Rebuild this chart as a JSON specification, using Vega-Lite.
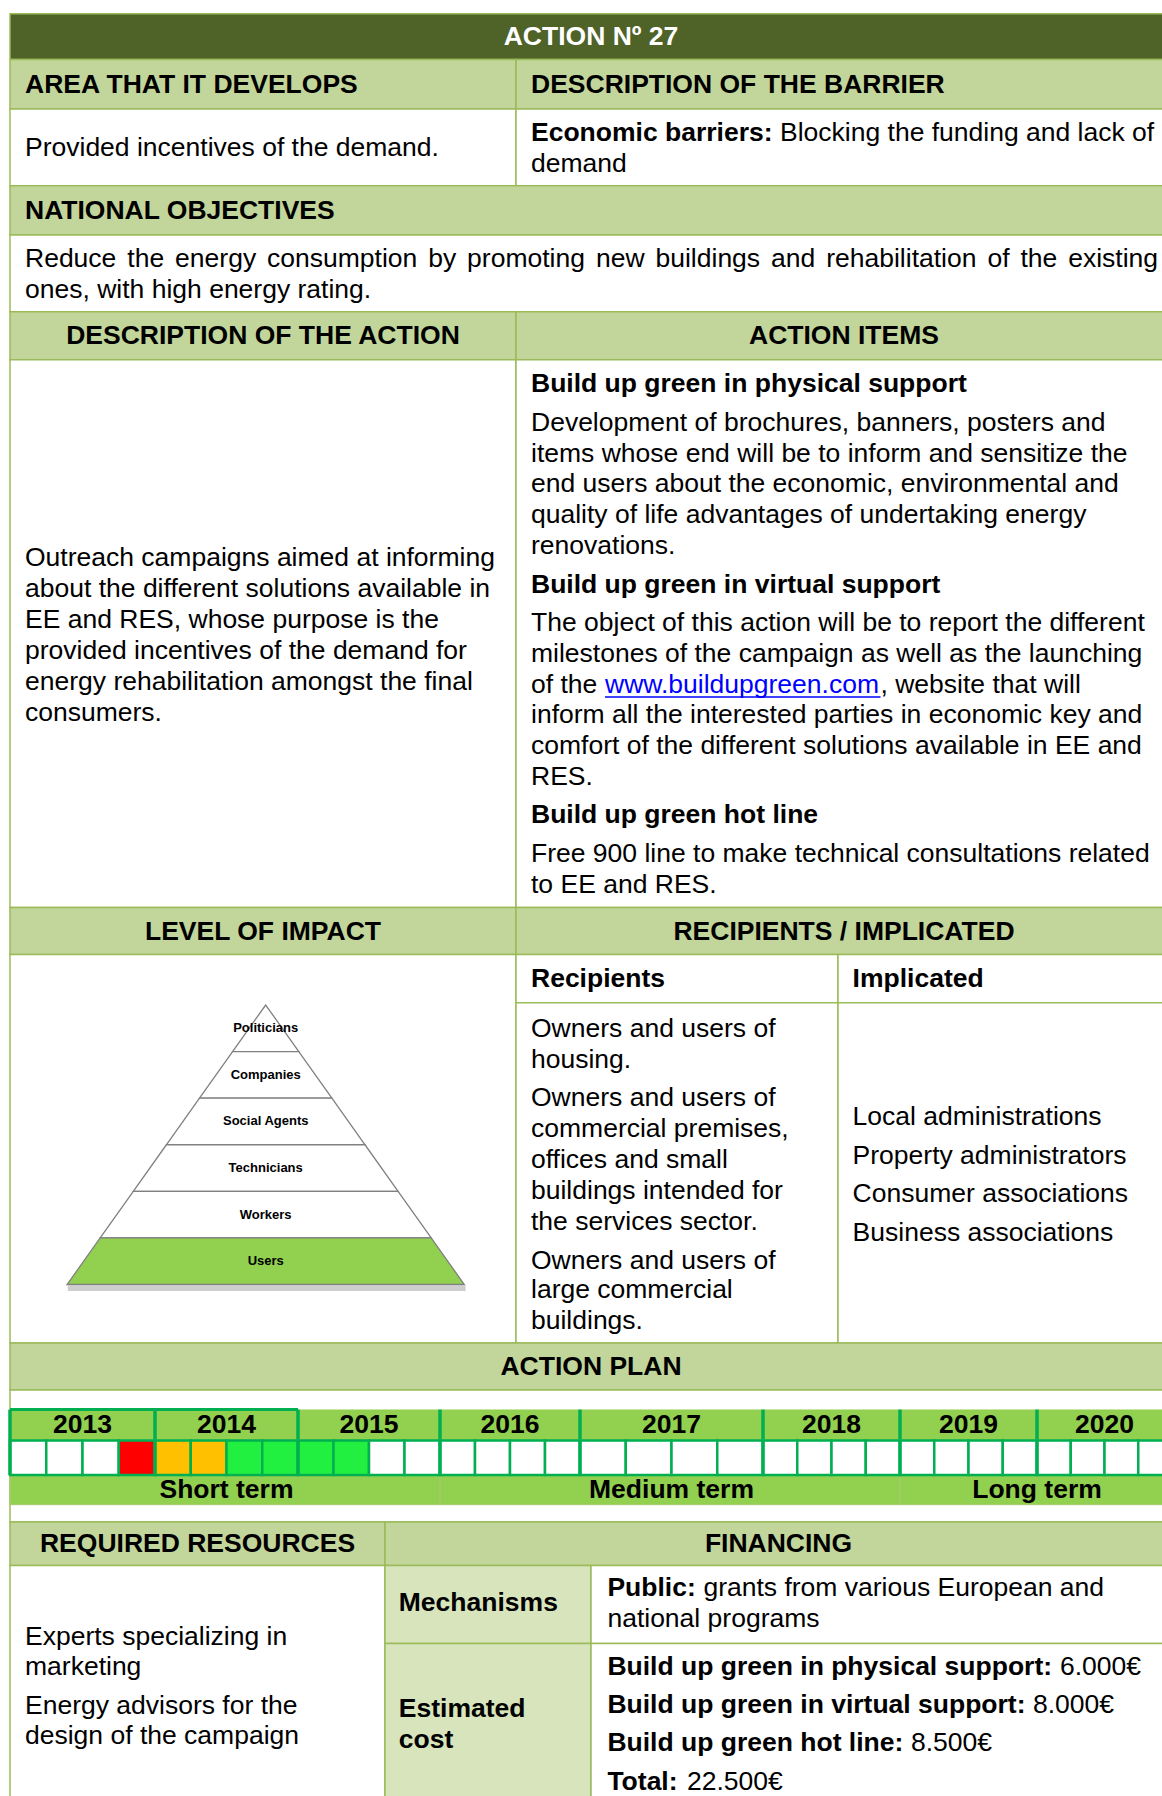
{
"$schema": "https://vega.github.io/schema/vega-lite/v6.json",
"width": 1162, "height": 1796, "padding": 0,
"autosize": {"type": "fit", "contains": "padding"},
"background": "white",
"config": {"view": {"stroke": null}, "axis": {"disable": true}, "legend": {"disable": true}, "text": {"font": "Liberation Sans"}},
"datasets": {
"cells": [
{"x0":10,"x1":1172,"y0":13.8,"y1":59.6,"kind":"dark"},
{"x0":10,"x1":516,"y0":59.6,"y1":108.9,"kind":"head"},
{"x0":516,"x1":1172,"y0":59.6,"y1":108.9,"kind":"head"},
{"x0":10,"x1":516,"y0":108.9,"y1":185.7,"kind":"body"},
{"x0":516,"x1":1172,"y0":108.9,"y1":185.7,"kind":"body"},
{"x0":10,"x1":1172,"y0":185.7,"y1":235,"kind":"head"},
{"x0":10,"x1":1172,"y0":235,"y1":311.7,"kind":"body"},
{"x0":10,"x1":516,"y0":311.7,"y1":359.8,"kind":"head"},
{"x0":516,"x1":1172,"y0":311.7,"y1":359.8,"kind":"head"},
{"x0":10,"x1":516,"y0":359.8,"y1":907.6,"kind":"body"},
{"x0":516,"x1":1172,"y0":359.8,"y1":907.6,"kind":"body"},
{"x0":10,"x1":516,"y0":907.6,"y1":954.6,"kind":"head"},
{"x0":516,"x1":1172,"y0":907.6,"y1":954.6,"kind":"head"},
{"x0":10,"x1":516,"y0":954.6,"y1":1343,"kind":"body"},
{"x0":516,"x1":838,"y0":954.6,"y1":1002.8,"kind":"body"},
{"x0":838,"x1":1172,"y0":954.6,"y1":1002.8,"kind":"body"},
{"x0":516,"x1":838,"y0":1002.8,"y1":1343,"kind":"body"},
{"x0":838,"x1":1172,"y0":1002.8,"y1":1343,"kind":"body"},
{"x0":10,"x1":1172,"y0":1343,"y1":1390,"kind":"head"},
{"x0":10,"x1":1172,"y0":1390,"y1":1522,"kind":"body"},
{"x0":10,"x1":385,"y0":1522,"y1":1565.4,"kind":"head"},
{"x0":385,"x1":1172,"y0":1522,"y1":1565.4,"kind":"head"},
{"x0":10,"x1":385,"y0":1565.4,"y1":1810,"kind":"body"},
{"x0":385,"x1":591,"y0":1565.4,"y1":1643.4,"kind":"label"},
{"x0":591,"x1":1172,"y0":1565.4,"y1":1643.4,"kind":"body"},
{"x0":385,"x1":591,"y0":1643.4,"y1":1810,"kind":"label"},
{"x0":591,"x1":1172,"y0":1643.4,"y1":1810,"kind":"body"}
],
"texts": [
{"tx":591,"ty":36.7,"t":"ACTION Nº 27","s":"title"},
{"tx":25,"ty":84.8,"t":"AREA THAT IT DEVELOPS","s":"hl"},
{"tx":531,"ty":84.8,"t":"DESCRIPTION OF THE BARRIER","s":"hl"},
{"tx":25,"ty":147.8,"t":"Provided incentives of the demand.","s":"b"},
{"tx":531,"ty":133,"t":"Economic barriers:","s":"hl"},
{"tx":780,"ty":133,"t":"Blocking the funding and lack of","s":"b"},
{"tx":531,"ty":164,"t":"demand","s":"b"},
{"tx":25,"ty":210.9,"t":"NATIONAL OBJECTIVES","s":"hl"},
{"tx":25,"ty":259,"t":"Reduce","s":"b"},
{"tx":127.3,"ty":259,"t":"the","s":"b"},
{"tx":175.1,"ty":259,"t":"energy","s":"b"},
{"tx":267,"ty":259,"t":"consumption","s":"b"},
{"tx":428.2,"ty":259,"t":"by","s":"b"},
{"tx":467.1,"ty":259,"t":"promoting","s":"b"},
{"tx":595.9,"ty":259,"t":"new","s":"b"},
{"tx":655.5,"ty":259,"t":"buildings","s":"b"},
{"tx":771,"ty":259,"t":"and","s":"b"},
{"tx":826.2,"ty":259,"t":"rehabilitation","s":"b"},
{"tx":987.4,"ty":259,"t":"of","s":"b"},
{"tx":1020.4,"ty":259,"t":"the","s":"b"},
{"tx":1068.2,"ty":259,"t":"existing","s":"b"},
{"tx":25,"ty":290,"t":"ones, with high energy rating.","s":"b"},
{"tx":263,"ty":335.8,"t":"DESCRIPTION OF THE ACTION","s":"hc"},
{"tx":844,"ty":335.8,"t":"ACTION ITEMS","s":"hc"},
{"tx":25,"ty":558.1,"t":"Outreach campaigns aimed at informing","s":"b"},
{"tx":25,"ty":589,"t":"about the different solutions available in","s":"b"},
{"tx":25,"ty":620,"t":"EE and RES, whose purpose is the","s":"b"},
{"tx":25,"ty":651,"t":"provided incentives of the demand for","s":"b"},
{"tx":25,"ty":682,"t":"energy rehabilitation amongst the final","s":"b"},
{"tx":25,"ty":712.8,"t":"consumers.","s":"b"},
{"tx":531,"ty":383.9,"t":"Build up green in physical support","s":"hl"},
{"tx":531,"ty":422.9,"t":"Development of brochures, banners, posters and","s":"b"},
{"tx":531,"ty":453.8,"t":"items whose end will be to inform and sensitize the","s":"b"},
{"tx":531,"ty":483.6,"t":"end users about the economic, environmental and","s":"b"},
{"tx":531,"ty":514.6,"t":"quality of life advantages of undertaking energy","s":"b"},
{"tx":531,"ty":545.5,"t":"renovations.","s":"b"},
{"tx":531,"ty":584.5,"t":"Build up green in virtual support","s":"hl"},
{"tx":531,"ty":623.4,"t":"The object of this action will be to report the different","s":"b"},
{"tx":531,"ty":654.4,"t":"milestones of the campaign as well as the launching","s":"b"},
{"tx":531,"ty":685.3,"t":"of the","s":"b"},
{"tx":605,"ty":685.3,"t":"www.buildupgreen.com","s":"link"},
{"tx":880.5,"ty":685.3,"t":", website that will","s":"b"},
{"tx":531,"ty":715.1,"t":"inform all the interested parties in economic key and","s":"b"},
{"tx":531,"ty":746,"t":"comfort of the different solutions available in EE and","s":"b"},
{"tx":531,"ty":777,"t":"RES.","s":"b"},
{"tx":531,"ty":814.8,"t":"Build up green hot line","s":"hl"},
{"tx":531,"ty":853.8,"t":"Free 900 line to make technical consultations related","s":"b"},
{"tx":531,"ty":884.7,"t":"to EE and RES.","s":"b"},
{"tx":263,"ty":931.7,"t":"LEVEL OF IMPACT","s":"hc"},
{"tx":844,"ty":931.7,"t":"RECIPIENTS / IMPLICATED","s":"hc"},
{"tx":531,"ty":978.7,"t":"Recipients","s":"hl"},
{"tx":852.6,"ty":978.7,"t":"Implicated","s":"hl"},
{"tx":531,"ty":1029,"t":"Owners and users of","s":"b"},
{"tx":531,"ty":1060,"t":"housing.","s":"b"},
{"tx":531,"ty":1097.9,"t":"Owners and users of","s":"b"},
{"tx":531,"ty":1128.8,"t":"commercial premises,","s":"b"},
{"tx":531,"ty":1159.8,"t":"offices and small","s":"b"},
{"tx":531,"ty":1190.7,"t":"buildings intended for","s":"b"},
{"tx":531,"ty":1221.6,"t":"the services sector.","s":"b"},
{"tx":531,"ty":1260.6,"t":"Owners and users of","s":"b"},
{"tx":531,"ty":1290.4,"t":"large commercial","s":"b"},
{"tx":531,"ty":1321.3,"t":"buildings.","s":"b"},
{"tx":852.6,"ty":1117.4,"t":"Local administrations","s":"b"},
{"tx":852.6,"ty":1156.3,"t":"Property administrators","s":"b"},
{"tx":852.6,"ty":1194.1,"t":"Consumer associations","s":"b"},
{"tx":852.6,"ty":1233.1,"t":"Business associations","s":"b"},
{"tx":591,"ty":1367.2,"t":"ACTION PLAN","s":"hc"},
{"tx":197.5,"ty":1543.7,"t":"REQUIRED RESOURCES","s":"hc"},
{"tx":778.5,"ty":1543.7,"t":"FINANCING","s":"hc"},
{"tx":25,"ty":1636.5,"t":"Experts specializing in","s":"b"},
{"tx":25,"ty":1667.4,"t":"marketing","s":"b"},
{"tx":25,"ty":1706.4,"t":"Energy advisors for the","s":"b"},
{"tx":25,"ty":1736.2,"t":"design of the campaign","s":"b"},
{"tx":398.8,"ty":1603.3,"t":"Mechanisms","s":"hl"},
{"tx":398.8,"ty":1708.7,"t":"Estimated","s":"hl"},
{"tx":398.8,"ty":1739.6,"t":"cost","s":"hl"},
{"tx":607.4,"ty":1588.4,"t":"Public:","s":"hl"},
{"tx":703.4,"ty":1588.4,"t":"grants from various European and","s":"b"},
{"tx":607.4,"ty":1619.3,"t":"national programs","s":"b"},
{"tx":607.4,"ty":1667.4,"t":"Build up green in physical support:","s":"hl"},
{"tx":1060,"ty":1667.4,"t":"6.000€","s":"b"},
{"tx":607.4,"ty":1705.2,"t":"Build up green in virtual support:","s":"hl"},
{"tx":1033,"ty":1705.2,"t":"8.000€","s":"b"},
{"tx":607.4,"ty":1743.1,"t":"Build up green hot line:","s":"hl"},
{"tx":911,"ty":1743.1,"t":"8.500€","s":"b"},
{"tx":607.4,"ty":1782,"t":"Total:","s":"hl"},
{"tx":687,"ty":1782,"t":"22.500€","s":"b"}
],
"underline": [{"x0":605,"x1":880.5,"y0":697}],
"months": [
{"year":2013,"m":0,"m2":1,"status":"none"},{"year":2013,"m":1,"m2":2,"status":"none"},{"year":2013,"m":2,"m2":3,"status":"none"},{"year":2013,"m":3,"m2":4,"status":"red"},
{"year":2014,"m":4,"m2":5,"status":"amber"},{"year":2014,"m":5,"m2":6,"status":"amber"},{"year":2014,"m":6,"m2":7,"status":"green"},{"year":2014,"m":7,"m2":8,"status":"green"},
{"year":2015,"m":8,"m2":9,"status":"green"},{"year":2015,"m":9,"m2":10,"status":"green"},{"year":2015,"m":10,"m2":11,"status":"none"},{"year":2015,"m":11,"m2":12,"status":"none"},
{"year":2016,"m":12,"m2":13,"status":"none"},{"year":2016,"m":13,"m2":14,"status":"none"},{"year":2016,"m":14,"m2":15,"status":"none"},{"year":2016,"m":15,"m2":16,"status":"none"},
{"year":2017,"m":16,"m2":17,"status":"none"},{"year":2017,"m":17,"m2":18,"status":"none"},{"year":2017,"m":18,"m2":19,"status":"none"},{"year":2017,"m":19,"m2":20,"status":"none"},
{"year":2018,"m":20,"m2":21,"status":"none"},{"year":2018,"m":21,"m2":22,"status":"none"},{"year":2018,"m":22,"m2":23,"status":"none"},{"year":2018,"m":23,"m2":24,"status":"none"},
{"year":2019,"m":24,"m2":25,"status":"none"},{"year":2019,"m":25,"m2":26,"status":"none"},{"year":2019,"m":26,"m2":27,"status":"none"},{"year":2019,"m":27,"m2":28,"status":"none"},
{"year":2020,"m":28,"m2":29,"status":"none"},{"year":2020,"m":29,"m2":30,"status":"none"},{"year":2020,"m":30,"m2":31,"status":"none"},{"year":2020,"m":31,"m2":32,"status":"none"}
],
"years": [
{"year":"2013","m":0,"m2":4},{"year":"2014","m":4,"m2":8},{"year":"2015","m":8,"m2":12},{"year":"2016","m":12,"m2":16},
{"year":"2017","m":16,"m2":20},{"year":"2018","m":20,"m2":24},{"year":"2019","m":24,"m2":28},{"year":"2020","m":28,"m2":32}
],
"terms": [
{"term":"Short term","m":0,"m2":12},{"term":"Medium term","m":12,"m2":24},{"term":"Long term","m":24,"m2":32}
],
"pyramid": [
{"level":"Politicians","focus":"no","edge":0,"lo":0,"hi":0},{"level":"Politicians","focus":"no","edge":1,"lo":-1,"hi":1},
{"level":"Companies","focus":"no","edge":1,"lo":-1,"hi":1},{"level":"Companies","focus":"no","edge":2,"lo":-2,"hi":2},
{"level":"Social Agents","focus":"no","edge":2,"lo":-2,"hi":2},{"level":"Social Agents","focus":"no","edge":3,"lo":-3,"hi":3},
{"level":"Technicians","focus":"no","edge":3,"lo":-3,"hi":3},{"level":"Technicians","focus":"no","edge":4,"lo":-4,"hi":4},
{"level":"Workers","focus":"no","edge":4,"lo":-4,"hi":4},{"level":"Workers","focus":"no","edge":5,"lo":-5,"hi":5},
{"level":"Users","focus":"yes","edge":5,"lo":-5,"hi":5},{"level":"Users","focus":"yes","edge":6,"lo":-6,"hi":6}
],
"pyrshadow": [{"lo":-5.98,"hi":6.04,"e0":6.02,"e1":6.14}],
"levels": [
{"level":"Politicians","rank":1},{"level":"Companies","rank":2},{"level":"Social Agents","rank":3},
{"level":"Technicians","rank":4},{"level":"Workers","rank":5},{"level":"Users","rank":6}
]
},
"resolve": {"scale": {"x": "independent", "y": "independent", "color": "independent"}},
"layer": [
{
"layer": [
{"data": {"name": "cells"},
 "mark": {"type": "rect", "stroke": "#9BBB59", "strokeWidth": 1.5, "clip": true},
 "encoding": {
  "x": {"field": "x0", "type": "quantitative", "scale": {"domain": [0, 1162], "nice": false, "zero": false}},
  "x2": {"field": "x1"},
  "y": {"field": "y0", "type": "quantitative", "scale": {"domain": [0, 1796], "nice": false, "zero": false, "reverse": true}},
  "y2": {"field": "y1"},
  "color": {"field": "kind", "type": "nominal", "scale": {"domain": ["dark", "head", "body", "label"], "range": ["#4F6228", "#C2D69B", "#FFFFFF", "#D7E4BC"]}}
 }},
{"data": {"name": "texts"}, "transform": [{"filter": "datum.s === 'title'"}],
 "mark": {"type": "text", "align": "center", "baseline": "middle", "fontSize": 26.5, "fontWeight": "bold", "font": "Liberation Sans", "fill": "#FFFFFF"},
 "encoding": {
  "x": {"field": "tx", "type": "quantitative", "scale": {"domain": [0, 1162], "nice": false, "zero": false}},
  "y": {"field": "ty", "type": "quantitative", "scale": {"domain": [0, 1796], "nice": false, "zero": false, "reverse": true}},
  "text": {"field": "t"}
 }},
{"data": {"name": "texts"}, "transform": [{"filter": "datum.s === 'hl'"}],
 "mark": {"type": "text", "align": "left", "baseline": "middle", "fontSize": 26.5, "fontWeight": "bold", "font": "Liberation Sans", "fill": "#000000"},
 "encoding": {
  "x": {"field": "tx", "type": "quantitative", "scale": {"domain": [0, 1162], "nice": false, "zero": false}},
  "y": {"field": "ty", "type": "quantitative", "scale": {"domain": [0, 1796], "nice": false, "zero": false, "reverse": true}},
  "text": {"field": "t"}
 }},
{"data": {"name": "texts"}, "transform": [{"filter": "datum.s === 'hc'"}],
 "mark": {"type": "text", "align": "center", "baseline": "middle", "fontSize": 26.5, "fontWeight": "bold", "font": "Liberation Sans", "fill": "#000000"},
 "encoding": {
  "x": {"field": "tx", "type": "quantitative", "scale": {"domain": [0, 1162], "nice": false, "zero": false}},
  "y": {"field": "ty", "type": "quantitative", "scale": {"domain": [0, 1796], "nice": false, "zero": false, "reverse": true}},
  "text": {"field": "t"}
 }},
{"data": {"name": "texts"}, "transform": [{"filter": "datum.s === 'b'"}],
 "mark": {"type": "text", "align": "left", "baseline": "middle", "fontSize": 26.5, "font": "Liberation Sans", "fill": "#000000"},
 "encoding": {
  "x": {"field": "tx", "type": "quantitative", "scale": {"domain": [0, 1162], "nice": false, "zero": false}},
  "y": {"field": "ty", "type": "quantitative", "scale": {"domain": [0, 1796], "nice": false, "zero": false, "reverse": true}},
  "text": {"field": "t"}
 }},
{"data": {"name": "texts"}, "transform": [{"filter": "datum.s === 'link'"}],
 "mark": {"type": "text", "align": "left", "baseline": "middle", "fontSize": 26.5, "font": "Liberation Sans", "fill": "#0000FF"},
 "encoding": {
  "x": {"field": "tx", "type": "quantitative", "scale": {"domain": [0, 1162], "nice": false, "zero": false}},
  "y": {"field": "ty", "type": "quantitative", "scale": {"domain": [0, 1796], "nice": false, "zero": false, "reverse": true}},
  "text": {"field": "t"}
 }},
{"data": {"name": "underline"},
 "mark": {"type": "rule", "stroke": "#0000FF", "strokeWidth": 1.5},
 "encoding": {
  "x": {"field": "x0", "type": "quantitative", "scale": {"domain": [0, 1162], "nice": false, "zero": false}},
  "x2": {"field": "x1"},
  "y": {"field": "y0", "type": "quantitative", "scale": {"domain": [0, 1796], "nice": false, "zero": false, "reverse": true}}
 }}
]
},
{
"layer": [
{"data": {"name": "years"},
 "mark": {"type": "rect", "fill": "#92D050", "clip": true},
 "encoding": {
  "x": {"field": "m", "type": "quantitative", "scale": {"domain": [0,4,8,12,16,20,24,28,32], "range": [10,155,298,440,580,763,900,1037,1172], "nice": false, "zero": false}},
  "x2": {"field": "m2"},
  "y": {"datum": 0, "type": "quantitative", "scale": {"domain": [0,1,2,3], "range": [1409.6,1440.5,1474.9,1504.7], "nice": false, "zero": false}},
  "y2": {"datum": 1}
 }},
{"data": {"name": "terms"},
 "mark": {"type": "rect", "fill": "#92D050", "stroke": "#A9C972", "strokeWidth": 1, "clip": true},
 "encoding": {
  "x": {"field": "m", "type": "quantitative", "scale": {"domain": [0,4,8,12,16,20,24,28,32], "range": [10,155,298,440,580,763,900,1037,1172], "nice": false, "zero": false}},
  "x2": {"field": "m2"},
  "y": {"datum": 2, "type": "quantitative", "scale": {"domain": [0,1,2,3], "range": [1409.6,1440.5,1474.9,1504.7], "nice": false, "zero": false}},
  "y2": {"datum": 3}
 }},
{"data": {"name": "months"},
 "mark": {"type": "rect", "stroke": "#00B050", "strokeWidth": 2.5, "clip": true},
 "encoding": {
  "x": {"field": "m", "type": "quantitative", "scale": {"domain": [0,4,8,12,16,20,24,28,32], "range": [10,155,298,440,580,763,900,1037,1172], "nice": false, "zero": false}},
  "x2": {"field": "m2"},
  "y": {"datum": 1, "type": "quantitative", "scale": {"domain": [0,1,2,3], "range": [1409.6,1440.5,1474.9,1504.7], "nice": false, "zero": false}},
  "y2": {"datum": 2},
  "color": {"field": "status", "type": "nominal", "scale": {"domain": ["none", "red", "amber", "green"], "range": ["#FFFFFF", "#FF0000", "#FFC000", "#22F040"]}}
 }},
{"data": {"name": "years"},
 "mark": {"type": "rule", "stroke": "#00B050", "strokeWidth": 3.5, "clip": true},
 "encoding": {
  "x": {"field": "m", "type": "quantitative", "scale": {"domain": [0,4,8,12,16,20,24,28,32], "range": [10,155,298,440,580,763,900,1037,1172], "nice": false, "zero": false}},
  "y": {"datum": 0, "type": "quantitative", "scale": {"domain": [0,1,2,3], "range": [1409.6,1440.5,1474.9,1504.7], "nice": false, "zero": false}},
  "y2": {"datum": 2}
 }},
{"data": {"name": "years"}, "transform": [{"filter": "datum.year === '2013' || datum.year === '2014'"}],
 "mark": {"type": "rule", "stroke": "#00B050", "strokeWidth": 3, "clip": true},
 "encoding": {
  "x": {"field": "m", "type": "quantitative", "scale": {"domain": [0,4,8,12,16,20,24,28,32], "range": [10,155,298,440,580,763,900,1037,1172], "nice": false, "zero": false}},
  "x2": {"field": "m2"},
  "y": {"datum": 0, "type": "quantitative", "scale": {"domain": [0,1,2,3], "range": [1409.6,1440.5,1474.9,1504.7], "nice": false, "zero": false}}
 }},
{"data": {"name": "years"}, "transform": [{"calculate": "(datum.m + datum.m2) / 2", "as": "mid"}],
 "mark": {"type": "text", "align": "center", "baseline": "middle", "fontSize": 26.5, "fontWeight": "bold", "font": "Liberation Sans", "fill": "#000000"},
 "encoding": {
  "x": {"field": "mid", "type": "quantitative", "scale": {"domain": [0,4,8,12,16,20,24,28,32], "range": [10,155,298,440,580,763,900,1037,1172], "nice": false, "zero": false}},
  "y": {"datum": 0.5, "type": "quantitative", "scale": {"domain": [0,1,2,3], "range": [1409.6,1440.5,1474.9,1504.7], "nice": false, "zero": false}},
  "text": {"field": "year"}
 }},
{"data": {"name": "terms"}, "transform": [{"calculate": "(datum.m + datum.m2) / 2", "as": "mid"}],
 "mark": {"type": "text", "align": "center", "baseline": "middle", "fontSize": 26.5, "fontWeight": "bold", "font": "Liberation Sans", "fill": "#000000"},
 "encoding": {
  "x": {"field": "mid", "type": "quantitative", "scale": {"domain": [0,4,8,12,16,20,24,28,32], "range": [10,155,298,440,580,763,900,1037,1172], "nice": false, "zero": false}},
  "y": {"datum": 2.5, "type": "quantitative", "scale": {"domain": [0,1,2,3], "range": [1409.6,1440.5,1474.9,1504.7], "nice": false, "zero": false}},
  "text": {"field": "term"}
 }}
]
},
{
"layer": [
{"data": {"name": "pyrshadow"},
 "mark": {"type": "rect", "fill": "#A6A6A6", "opacity": 0.55},
 "encoding": {
  "y": {"field": "e0", "type": "quantitative", "scale": {"domain": [0, 6], "range": [1005, 1284.5], "nice": false, "zero": false}},
  "y2": {"field": "e1"},
  "x": {"field": "lo", "type": "quantitative", "scale": {"domain": [-6, 6], "range": [67.1, 464.3], "nice": false, "zero": false}},
  "x2": {"field": "hi"}
 }},
{"data": {"name": "pyramid"},
 "mark": {"type": "area", "orient": "horizontal", "stroke": "#808080", "strokeWidth": 1.3, "strokeJoin": "miter"},
 "encoding": {
  "y": {"field": "edge", "type": "quantitative", "scale": {"domain": [0, 6], "range": [1005, 1284.5], "nice": false, "zero": false}},
  "x": {"field": "lo", "type": "quantitative", "stack": null, "scale": {"domain": [-6, 6], "range": [67.1, 464.3], "nice": false, "zero": false}},
  "x2": {"field": "hi"},
  "detail": {"field": "level"},
  "color": {"field": "focus", "type": "nominal", "scale": {"domain": ["no", "yes"], "range": ["#FFFFFF", "#92D050"]}}
 }},
{"data": {"name": "levels"}, "transform": [{"calculate": "datum.rank - 0.5", "as": "pos"}],
 "mark": {"type": "text", "align": "center", "baseline": "middle", "fontSize": 13, "fontWeight": "bold", "font": "Liberation Sans", "fill": "#000000"},
 "encoding": {
  "y": {"field": "pos", "type": "quantitative", "scale": {"domain": [0, 6], "range": [1005, 1284.5], "nice": false, "zero": false}},
  "x": {"datum": 0, "type": "quantitative", "scale": {"domain": [-6, 6], "range": [67.1, 464.3], "nice": false, "zero": false}},
  "text": {"field": "level"}
 }}
]
}
]
}
